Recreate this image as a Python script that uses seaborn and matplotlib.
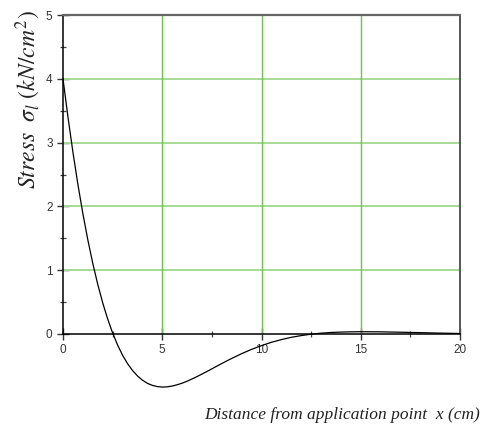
import numpy as np
import pandas as pd
import matplotlib
matplotlib.use("Agg")
import matplotlib.pyplot as plt
from matplotlib.ticker import MultipleLocator
import seaborn as sns

# Distance from the application point (cm) and longitudinal stress (kN/cm^2)
distance = [0.0, 0.25, 0.5, 0.75, 1.0, 1.25, 1.5, 1.75, 2.0, 2.25, 2.5, 2.75,
            3.0, 3.25, 3.5, 3.75, 4.0, 4.25, 4.5, 4.75, 5.0, 5.25, 5.5, 5.75,
            6.0, 6.25, 6.5, 6.75, 7.0, 7.25, 7.5, 7.75, 8.0, 8.25, 8.5, 9.0,
            9.5, 10.0, 10.5, 11.0, 11.5, 12.0, 12.5, 13.0, 13.5, 14.0, 14.5,
            15.0, 16.0, 17.0, 18.0, 19.0, 20.0]
stress = [4.000, 3.401, 2.850, 2.346, 1.889, 1.477, 1.107, 0.779, 0.489,
          0.236, 0.016, -0.172, -0.332, -0.464, -0.571, -0.657, -0.723,
          -0.773, -0.805, -0.824, -0.832, -0.828, -0.816, -0.796, -0.771,
          -0.740, -0.705, -0.668, -0.628, -0.588, -0.546, -0.504, -0.463,
          -0.422, -0.383, -0.308, -0.241, -0.182, -0.130, -0.088, -0.052,
          -0.025, -0.003, 0.013, 0.024, 0.030, 0.034, 0.036, 0.034, 0.028,
          0.021, 0.014, 0.008]

x_ticks = [0, 5, 10, 15, 20]
y_ticks = [0, 1, 2, 3, 4, 5]

sns.set_style("white")
plt.rcParams["font.family"] = ["Liberation Sans", "DejaVu Sans"]
plt.rcParams["mathtext.fontset"] = "stix"

df = pd.DataFrame({"x": distance, "stress": stress})

fig = plt.figure(figsize=(4.85, 4.32), dpi=100)
ax = fig.add_axes([63 / 485, 1 - 334 / 432, (460 - 63) / 485, (334 - 15) / 432])

ax.set_xlim(0, 20)
ax.set_ylim(0, 5)

# grid lines
for yv in [1, 2, 3, 4]:
    ax.axhline(yv, color="#a5da95", lw=1.4, zorder=1)
for xv in [5, 10, 15]:
    ax.axvline(xv, color="#6cc24a", lw=1.0, zorder=1)

sns.lineplot(data=df, x="x", y="stress", ax=ax, color="black", lw=0.9,
             zorder=5)
for ln in ax.get_lines():
    ln.set_clip_on(False)
    ln.set_solid_joinstyle("round")

ax.set_xticks(x_ticks)
ax.set_yticks(y_ticks)
ax.xaxis.set_minor_locator(MultipleLocator(2.5))
ax.yaxis.set_minor_locator(MultipleLocator(0.5))
ax.tick_params(axis="both", which="major", direction="inout", length=9,
               width=1.0, color="#333333", labelsize=8.5, labelcolor="#333333",
               pad=3, bottom=True, left=True)
ax.tick_params(axis="both", which="minor", direction="inout", length=5,
               width=0.9, color="#444444", bottom=True, left=True)
ax.set_xlabel("")
ax.set_ylabel("")

for side in ["left", "bottom"]:
    ax.spines[side].set_color("black")
    ax.spines[side].set_linewidth(1.1)
ax.spines["top"].set_color("#666666")
ax.spines["top"].set_linewidth(1.6)
ax.spines["right"].set_color("#555555")
ax.spines["right"].set_linewidth(1.4)
for s in ax.spines.values():
    s.set_visible(True)
    s.set_zorder(4)

fig.text(0.058, 0.77, r"$\mathit{Stress}\ \ \sigma_l\ (kN/cm^2)$",
         rotation=90, ha="center", va="center", fontsize=17, color="#222222")
fig.text(0.705, 0.04, "Distance from application point  x (cm)",
         family="Liberation Serif", style="italic", ha="center", va="center",
         fontsize=12.5, color="#222222")

fig.savefig("out.png", dpi=100)
